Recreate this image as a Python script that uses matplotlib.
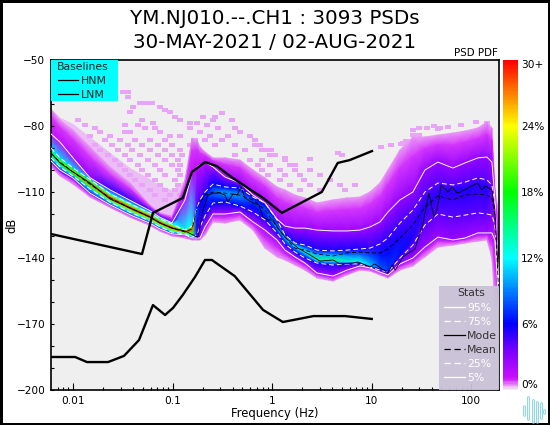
import numpy as np
import matplotlib
matplotlib.use("Agg")
import matplotlib.pyplot as plt
from matplotlib.colors import LinearSegmentedColormap, Normalize
from matplotlib.cm import ScalarMappable
from matplotlib.lines import Line2D
from matplotlib.patches import Rectangle
from matplotlib.path import Path
from matplotlib.ticker import LogLocator, FixedLocator, FuncFormatter, NullFormatter

# ---- values -----------------------------------------------------------
freq = [0.00601,0.0074,0.01,0.0148,0.0235,0.0374,0.0593,0.0747,0.0986,0.1332,0.1566,0.1758,0.1884,0.2116,0.2544,
        0.336,0.475,0.642,0.847,1.117,1.345,1.694,2.134,2.818,4.08,5.64,7.62,9.59,12.1,14.55,19.2,25.9,34.2,46.2,
        65.3,86.3,116.4,143.5,161,172.7,190]
env_hi = [-72.3,-77.3,-81.8,-89.5,-98.6,-105.9,-115.9,-119.5,-120.9,-104.5,-85.5,-86.4,-89.5,-91.8,-94.5,
          -94.5,-95.5,-100,-103.6,-107.7,-109.1,-111.4,-112.7,-115,-113.6,-112.7,-112.3,-110,-105.9,-100,-90.9,-85,-85,-84.1,
          -83.2,-82.3,-80.9,-78.2,-80.9,-109.1,-120.5]
cloud_hi = [-72.3,-76,-79,-85,-92,-99,-104,-107,-109,-104.5,-85.5,-86.4,-89.5,-91.8,-94.5,
            -94.5,-95.5,-100,-103.6,-107.7,-109.1,-111.4,-112.7,-115,-113.6,-112.7,-112.3,-110,-105.9,-100,-90.9,-85,-85,-84.1,
            -83.2,-82.3,-80.9,-78.2,-80.9,-109.1,-120.5]
p95 = [-83.6,-87.3,-94.5,-103.5,-109,-113.8,-118.5,-121.5,-124,-113.6,-101.4,-98.6,-97.7,-96.4,-98.6,
       -103.2,-105.9,-111.4,-115,-122.3,-125.5,-126.4,-126.4,-127.3,-127.7,-127.7,-127.3,-125.9,-123.6,-119.1,-113.6,-110,-100,-96.4,
       -99.1,-96.8,-94.5,-94.1,-96.4,-113.6,-154.5]
p75 = [-90,-94.5,-99.1,-104.3,-110.8,-115.3,-119.6,-122.2,-124.6,-127.3,-125.5,-117.3,-113.6,-110,-106.4,
       -107.7,-108.2,-112.3,-115,-122.7,-129.5,-133.2,-134.1,-136.4,-136.8,-136.4,-135.9,-135.5,-133.6,-130.9,-124.1,-118.2,-110,-105.9,
       -106.8,-105.5,-103.6,-104.5,-106.8,-115.9,-154.5]
mean = [-92.3,-96.4,-100.9,-106.4,-112.7,-117.3,-121.4,-124.1,-126.4,-128.2,-126.8,-117.7,-115,-111.4,-110,
        -110.5,-111.4,-113.6,-118.2,-125.9,-130.5,-135.5,-136.4,-138.2,-139.1,-137.7,-137.3,-137.7,-137.7,-135.9,-130.9,-125,-116.8,-111.8,
        -113.6,-111.4,-110.9,-111.4,-112.7,-120.5,-159.1]
# dB of the densest cells in each column
core_db = [-92.3,-96.4,-100.9,-106.4,-112.7,-117.3,-121.4,-124.1,-126.4,-128.2,-126.8,-117.7,-115,-111.4,-110,
           -110.5,-111.4,-113.6,-118.2,-126.4,-130.5,-134.5,-137.3,-140.9,-140.9,-141.8,-141.8,-143.6,-144.5,-145.9,-137.3,-130.9,-115.9,-111.4,
           -109.1,-109.1,-106.8,-108.2,-109.1,-120.5,-159.1]
p25 = [-94.5,-98.6,-102.7,-108.6,-114.6,-119.2,-123.2,-125.8,-128.2,-129.1,-130.5,-129.5,-125.9,-120.9,-115,
       -114.5,-116.4,-119.1,-122.7,-128.6,-133.6,-137.3,-140,-142.3,-143.2,-142.7,-142.7,-144.1,-145.5,-146.4,-140,-134.1,-125,-120,
       -121.4,-120.5,-119.5,-120,-120.5,-125,-161.4]
p5 = [-95.9,-100,-103.6,-110.5,-115.8,-120.4,-124.2,-126.8,-129,-129.5,-130.9,-130.9,-130.9,-125.9,-120,
      -120,-119.1,-123.6,-127.3,-131.8,-136.4,-139.5,-142.3,-146.8,-148.2,-145.5,-143.6,-144.5,-146.4,-147.7,-142.7,-140,-135,-130.5,
      -131.8,-130.9,-128.6,-128.6,-128.6,-131.8,-162.3]
env_lo = [-98.6,-102.7,-106.4,-112.3,-117,-121.5,-125.2,-127.8,-130,-130.9,-131.8,-131.8,-131.8,-129.5,-123.6,
          -124.1,-122.7,-127.3,-135.5,-139.5,-140.9,-143.2,-145.5,-149.1,-150.5,-147.7,-145.5,-145.9,-147.7,-149.1,-145.5,-143.6,-139.5,-135,
          -134.1,-133.2,-132.3,-131.8,-140,-161.4,-162.7]
dens_core = [16,20,26,28,30,30,30,30,30,30,28,8,6,6.5,8.5,10,9.5,7.5,8,10,11,12,13,15,15,13.5,12.5,11,8,7.5,6.5,5.5,5.2,5.2,5.2,5.5,5.2,5.5,4,3,2]
dens_q = [11,11,11,11,12,12,12,12,12,12,12,4.5,4.5,5,6,6,6,5,5,5,5.5,5.5,5.5,5.5,5.5,5.5,5.5,5,5,5,4.5,4.3,4.2,4.2,4.2,4.2,4.2,4.2,3.5,2.5,1.5]
dens_95 = [1.2,1.5,2,3,5,5,5,5,5,1.5,1.5,1.5,1.5,1.5,2.2,2.5,2.5,2.5,2.5,2.5,2.5,2.5,2.5,2.5,2.5,2.5,2.5,2.5,2.5,2.5,2.7,2.8,2.8,2.8,2.8,2.8,2.8,2.8,2.5,1.5,1]
dens_5 = [5,5,5,5,5,5,5,5,5,5,5,5,2,2,2,2,2,2,2,2,2,2,2,2,2,2,2,2,2,2,2.2,2.4,2.5,2.5,2.5,2.5,2.5,2.5,2,1,1]

mode_f = [0.00601,0.0074,0.01,0.0148,0.0235,0.0374,0.0593,0.0747,0.0986,0.1332,0.168,0.18,0.202,0.2265,0.254,0.30,0.336,0.36,
          0.404,0.444,0.487,0.533,0.642,0.737,0.81,0.907,1.02,1.14,1.345,1.82,2.4,3.02,4.08,4.79,6.47,7.24,9.59,10.7,14.55,16,17.2,
          20.6,27.2,32.8,37.5,42.1,45.2,49.8,58.4,64,72,77,116,127,139.5,161,172.7,185]
mode_db = [-92.3,-96.8,-100.9,-105.9,-113.2,-117.3,-121.4,-124.1,-126.4,-127.7,-130,-130.5,-118.2,-111.4,-110.5,-110.5,-111.4,-114.5,
           -110.9,-111.4,-107.7,-112.7,-115,-115.9,-121.4,-122.7,-122.7,-126.4,-130.5,-135.5,-138.6,-141.4,-140.9,-142.7,-142.3,-141.8,-144.1,-142.7,-146.8,-143.2,-145.5,
           -139.5,-135.9,-124.1,-110.5,-121.4,-118.2,-106.8,-110,-107.7,-110.5,-110,-105.9,-109.1,-107.3,-109.1,-118.2,-144.1]

hnm_f = [0.00601,0.0493,0.0635,0.1266,0.1566,0.2116,0.278,0.40,0.81,1.25,3.15,4.55,6.0,10.05]
hnm_db = [-129.1,-138.2,-119.5,-112.7,-100.9,-96.4,-98.2,-103.6,-112.7,-119.5,-110,-96.8,-95.5,-91.4]
lnm_f = [0.00601,0.0105,0.0138,0.0225,0.0325,0.046,0.0635,0.084,0.101,0.1266,0.168,0.2116,0.248,0.42,0.81,1.28,2.6,5.4,10]
lnm_db = [-185,-185,-187.3,-187.3,-184.5,-177.3,-161.4,-165.9,-162.7,-156.8,-148.6,-140.9,-140.9,-148.2,-163.6,-169.1,-166.4,-166.4,-167.7]

# isolated low-probability cells
speck_db = [-64.5,-66.8,-69.5,-71.4,-72.7,-73.6,-74,-75.9,-77.3,-78.6,-79.5,-80.9,-82.7,-84.5,-86.4,-88.6,-90.9,-93.2,-95.5,-97.7,
            -100,-102.3,-104.5,-106.8,-109.1,-111.4,-113.6]
speck_f = [[.0318,.0356],[.0356],[.047,.054,.062],[.04,.0747],[.084],[.0373,.094],[.314],[.106,.202,.267],
           [.0112,.0493,.119,.254,.395],[.0635,.176,.15],[.045,.0332,.222,.0132],[.0166,.0528,.0665,.15,.286,.42],
           [.0187,.0373,.0747,.0332,.188,.475],[.0148,.0235,.094,.119,.238,.36,.6],
           [.021,.0296,.0419,.0593,.084,.168,.212,.314],[.0166,.0246,.0356,.0493,.0713,.0986,.15,.267,.42,.67],
           [.0187,.0283,.0391,.0593,.084,.119,.53,.79],[.0225,.0332,.047,.0713,.0986,.124,.42,.95,1.06],
           [.0264,.0373,.0566,.084,.113,.6,.79,1.35],[.0296,.045,.0665,.0986,.119,.72,.95,1.5,1.7],
           [.0332,.0493,.0747,.113,.79,1.2,1.7,2.4],[.0373,.0566,.084,.119,.9,1.35,1.9,3.0],
           [.0419,.0665,.106,1.2,2.1,3.8],[.0493,.0747,.113,1.5,2.4,4.8,6.8],[.0593,.084,.106,1.9,3.0,5.4],
           [.0665,.094,.119],[.084,.113]]
band_f = [0.67,0.75,0.84,0.98,0.98,1.35,2.4,4.55,5.0,12.5,15.7,19.9,22.2,25.9,25.9,29.9,29.9,36,42,48,25.9,46,58,79,112,143,20.6,30]
band_db = [-86.4,-88.6,-90.9,-90.9,-93.2,-94.5,-94.9,-92.3,-93.2,-89.5,-88.6,-88.2,-86.8,-84,-81.8,-80.9,-84.1,-80.9,-80.0,-80.9,
           -81.8,-81.4,-80.5,-79.5,-78.2,-78.6,-87.7,-85.9]

title_1 = "YM.NJ010.--.CH1 : 3093 PSDs"
title_2 = "30-MAY-2021 / 02-AUG-2021"
x_tick_vals = [0.01, 0.1, 1, 10, 100]
x_tick_text = ["0.01", "0.1", "1", "10", "100"]
y_tick_vals = [-50, -80, -110, -140, -170, -200]
bar_tick_vals = [0, 6, 12, 18, 24, 30]
bar_tick_text = ["0%", "6%", "12%", "18%", "24%", "30+"]

# ---- figure ------------------------------------------------------------
W, H = 550, 425
fig = plt.figure(figsize=(W/100, H/100), dpi=100, facecolor="white", edgecolor="black", linewidth=2.2)
ax = fig.add_axes([51/W, 1-390/H, (499.3-51)/W, 330/H], facecolor="#efefef")
ax.set_xscale("log")
ax.set_xlim(0.00601, 191)
ax.set_ylim(-200, -50)

cmap = LinearSegmentedColormap.from_list("pqlx", [
    (0, "#f4eaf8"), (0.4/30, "#e890f6"), (1/30, "#cc10ff"), (3.5/30, "#7a00ff"), (6/30, "#0000ff"),
    (12/30, "#00ffff"), (18/30, "#00ff00"), (24/30, "#ffff00"), (1, "#ff0000")])
norm = Normalize(0, 30)

f = np.array(freq)
hi, u95, u75, mn, core, l25, l5, lo, cl = map(np.array, (env_hi, p95, p75, mean, core_db, p25, p5, env_lo, cloud_hi))
dc, dq, d9, d0 = map(np.array, (dens_core, dens_q, dens_95, dens_5))
edge = np.full_like(f, 0.4)
inner = np.full_like(f, 0.85)
Y = np.vstack([hi, hi + (u95-hi)*0.35, u95, u75, (u75+core)/2, core, (l25+core)/2, l25, l5, l5 + (lo-l5)*0.5, lo])
C = np.vstack([edge, inner, d9, dq, (dq+dc)/2, dc, (dq+dc)/2, dq, d0, inner, edge])
X = np.tile(f, (Y.shape[0], 1))

ax.fill_between(f, hi, cl, color="#ecbcf6", lw=0, zorder=0.8)
ax.pcolormesh(X, Y, C, shading="gouraud", cmap=cmap, norm=norm, zorder=1)

cell = Path([(-1, -.6), (1, -.6), (1, .6), (-1, .6), (-1, -.6)], closed=True)
sx = [v for row in speck_f for v in row] + band_f
sy = [d for d, row in zip(speck_db, speck_f) for _ in row] + band_db
ax.scatter(sx, sy, marker=cell, s=20, color="#e8a4f6", linewidths=0, zorder=0.9)

# baselines
ax.plot(hnm_f, hnm_db, color="black", lw=1.7, zorder=4, solid_joinstyle="round")
ax.plot(lnm_f, lnm_db, color="black", lw=1.7, zorder=4, solid_joinstyle="round")
# stats
lw = 0.7
dash = (0, (5, 3))
ax.plot(f, u95, color="white", lw=lw, zorder=3)
ax.plot(f, l5, color="white", lw=lw, zorder=3)
ax.plot(f, u75, color="white", lw=lw, ls=dash, zorder=3)
ax.plot(f, l25, color="white", lw=lw, ls=dash, zorder=3)
ax.plot(f, mn, color="black", lw=0.6, ls=dash, zorder=3)
ax.plot(mode_f, mode_db, color="black", lw=0.6, zorder=3)

# ticks
ax.xaxis.set_major_locator(FixedLocator(x_tick_vals))
ax.xaxis.set_major_formatter(FuncFormatter(lambda v, p: x_tick_text[x_tick_vals.index(v)] if v in x_tick_vals else ""))
ax.xaxis.set_minor_locator(LogLocator(base=10, subs=range(2, 10), numticks=12))
ax.xaxis.set_minor_formatter(NullFormatter())
ax.yaxis.set_major_locator(FixedLocator(y_tick_vals))
ax.yaxis.set_minor_locator(FixedLocator(list(range(-200, -49, 10))))
ax.tick_params(which="both", direction="in", labelsize=7.6, color="black", width=0.8)
ax.tick_params(axis="x", which="major", length=5)
ax.tick_params(axis="x", which="minor", length=2.5)
ax.tick_params(axis="y", which="both", length=2.5)
ax.tick_params(axis="both", which="major", pad=4)
for s in ax.spines.values():
    s.set_linewidth(1.2)

fig.text(275/W, 1-19/H, title_1, ha="center", va="center", fontsize=14.3, color="black")
fig.text(275/W, 1-43/H, title_2, ha="center", va="center", fontsize=14.3, color="black")
fig.text(498/W, 1-53/H, "PSD PDF", ha="right", va="center", fontsize=7.4)
fig.text(275/W, 1-414/H, "Frequency (Hz)", ha="center", va="center", fontsize=8.4)
fig.text(12/W, 1-225/H, "dB", ha="center", va="center", rotation=90, fontsize=8.4)

# legends: coloured boxes with frameless legends on top
tf = fig.transFigure
ax.add_patch(Rectangle((51/W, 1-101/H), 67/W, 41/H, transform=tf, facecolor="#00ffff", edgecolor="none", zorder=5))
ax.add_patch(Rectangle((439/W, 1-390/H), 60/W, 104/H, transform=tf, facecolor="#c9c2d8", alpha=0.95, edgecolor="none", zorder=5))

def line(**kw):
    return Line2D([], [], lw=0.9, **kw)
opts = dict(frameon=False, borderaxespad=0, borderpad=0, fontsize=7.8, title_fontsize=7.8, labelspacing=0.38,
            handlelength=1.9, handletextpad=0.25, bbox_transform=tf)
leg1 = ax.legend([line(color="black"), line(color="black")], ["HNM", "LNM"], title="Baselines", loc="upper left",
                 bbox_to_anchor=(56.5/W, 1-61.5/H), labelcolor="#222222", **opts)
leg1.get_title().set_color("#222222")
leg1.set_zorder(6)
ax.add_artist(leg1)
hs = [line(color="white"), line(color="white", ls=dash), line(color="black"), line(color="black", ls=dash),
      line(color="white", ls=dash), line(color="white")]
leg2 = ax.legend(hs, ["95%", "75%", "Mode", "Mean", "25%", "5%"], title="Stats", loc="upper left",
                 bbox_to_anchor=(444/W, 1-288.5/H), **opts)
leg2.get_title().set_color("#333333")
for t, c in zip(leg2.get_texts(), ["white", "white", "#333333", "#333333", "white", "white"]):
    t.set_color(c)
leg2.set_zorder(6)

# colour bar
cax = fig.add_axes([503/W, 1-390/H, 15/W, 330/H])
cb = fig.colorbar(ScalarMappable(norm=norm, cmap=cmap), cax=cax)
cb.outline.set_visible(False)
cb.set_ticks(bar_tick_vals)
cb.set_ticklabels(bar_tick_text)
cax.tick_params(length=0, labelsize=7.6, pad=2)
labels = cax.get_yticklabels()
labels[0].set_va("bottom")
labels[-1].set_va("top")

# small waveform logo in the corner
logo_x = [524, 528, 533, 537, 541, 544]
logo_top = [406, 397, 400, 402, 403, 410]
logo_bot = [415, 419, 422, 422, 418, 413]
for lx, lt, lb in zip(logo_x, logo_top, logo_bot):
    fig.add_artist(Line2D([lx/W, lx/W], [1-lt/H, 1-lb/H], color="#7ccfe0", lw=1.9, solid_capstyle="round"))
    fig.add_artist(Line2D([lx/W, lx/W], [1-lt/H, 1-lb/H], color="#e8f6fa", lw=0.7, solid_capstyle="round"))

fig.savefig("out.png", dpi=100)
